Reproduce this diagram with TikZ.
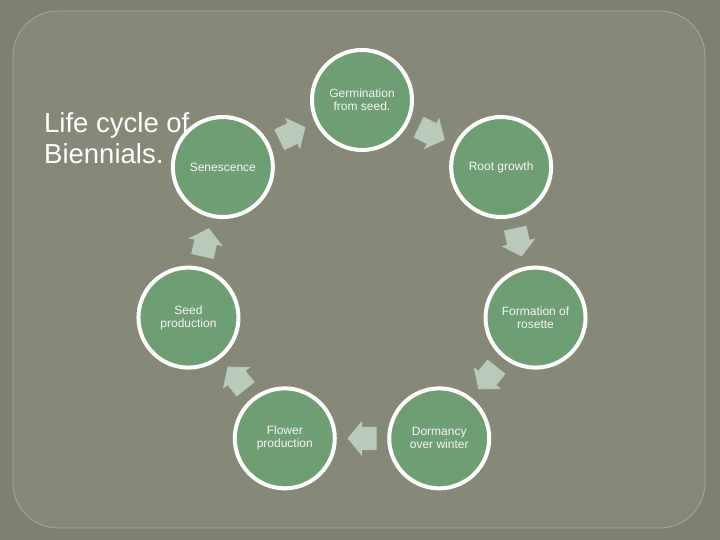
\documentclass[tikz,border=0pt]{standalone}
\usepackage{fontspec}
\setmainfont{Liberation Sans}
\usetikzlibrary{calc}
\definecolor{outerbg}{RGB}{126,128,112}
\definecolor{innerbg}{RGB}{134,137,119}
\definecolor{framecol}{RGB}{166,170,148}
\definecolor{stagegreen}{RGB}{110,159,114}
\definecolor{arrowcol}{RGB}{185,202,187}
\definecolor{txtwhite}{RGB}{245,245,245}
\begin{document}
\begin{tikzpicture}[x=1pt,y=1pt,
  stage/.style={circle,draw=white,line width=4pt,fill=stagegreen,minimum size=100pt,inner sep=0pt,
    text=txtwhite,font=\fontsize{12}{13}\selectfont,align=center},
  blockarrow/.style={fill=arrowcol,draw=none}]
\useasboundingbox (0,0) rectangle (720,540);
\fill[outerbg] (0,0) rectangle (720,540);
\draw[framecol,fill=innerbg,line width=0.8pt,rounded corners=45pt] (13,12) rectangle (705,529);
% title
\node[anchor=base west,text=white,font=\fontsize{27.5}{31}\selectfont,inner sep=0pt] (t1) at (44,407) {Life cycle of};
\node[anchor=base west,text=white,font=\fontsize{27.5}{31}\selectfont,inner sep=0pt] (t2) at (44,376) {Biennials.};
\coordinate (c) at (362,262);
% stages
\node[stage] (s0) at ($(c)+(90:178)$) {Germination\\from seed.};
\node[stage] (s1) at ($(c)+(38.571:178)$) {Root growth};
\node[stage] (s2) at ($(c)+(-12.857:178)$) {Formation of\\rosette};
\node[stage] (s3) at ($(c)+(-64.286:178)$) {Dormancy\\over winter};
\node[stage] (s4) at ($(c)+(-115.714:178)$) {Flower\\production};
\node[stage] (s5) at ($(c)+(-167.143:178)$) {Seed\\production};
\node[stage] (s6) at ($(c)+(141.429:178)$) {Senescence};
% arrows
\foreach \k in {0,...,6}{
  \pgfmathsetmacro{\ang}{90-\k*51.4286-25.7143}
  \pgfmathsetmacro{\dir}{\ang-90}
  \begin{scope}[shift={($(c)+(\ang:160.4)$)},rotate=\dir]
    \fill[blockarrow] (-14.5,-11.5) -- (0,-11.5) -- (0,-17.5) -- (14.5,0) -- (0,17.5) -- (0,11.5) -- (-14.5,11.5) -- cycle;
  \end{scope}
}
\end{tikzpicture}
\end{document}
